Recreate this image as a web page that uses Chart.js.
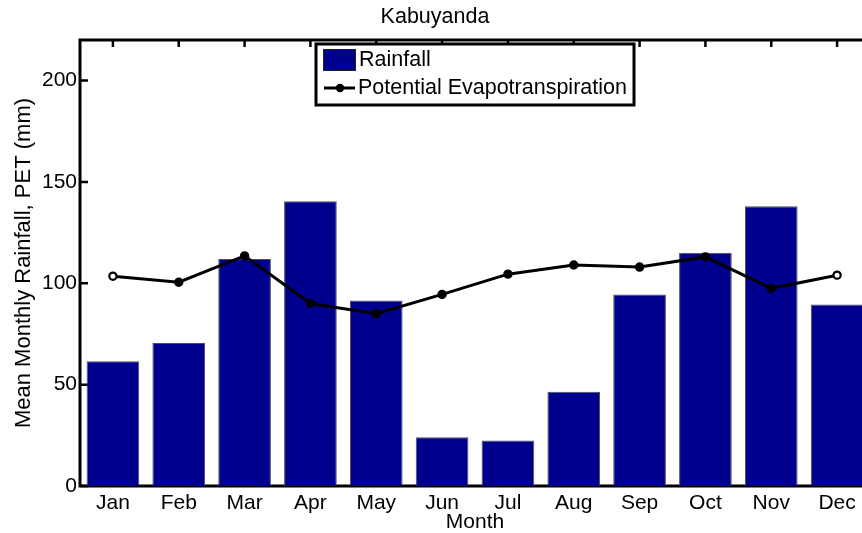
<!DOCTYPE html>
<html>
<head>
<meta charset="utf-8">
<script src="https://cdn.jsdelivr.net/npm/chart.js@4/dist/chart.umd.min.js"></script>
<style>
  html, body { margin: 0; padding: 0; background: #fff; overflow: hidden; width: 862px; height: 533px; }
  #wrap { width: 880px; height: 533px; }
</style>
</head>
<body>
<div id="wrap"><canvas id="c" width="880" height="533"></canvas></div>
<script>
const months = ['Jan','Feb','Mar','Apr','May','Jun','Jul','Aug','Sep','Oct','Nov','Dec'];
const rainfall = [61.5, 70.5, 112, 140.5, 91.5, 24, 22.5, 46.5, 94.5, 115, 138, 89.5];
const pet = [103.5, 100.5, 113.5, 90, 85, 94.5, 104.5, 109, 108, 113, 97.5, 104];
const yTicks = [0, 50, 100, 150, 200];
const chartTitle = 'Kabuyanda';
const xTitle = 'Month';
const yTitle = 'Mean Monthly Rainfall, PET (mm)';
const seriesNames = ['Rainfall', 'Potential Evapotranspiration'];

const FONT = "'Liberation Sans', Arial, Helvetica, sans-serif";
const BAR_COLOR = 'rgb(0,0,143)';

const framePlugin = {
  id: 'frame',
  beforeDatasetsDraw(chart) {
    const {ctx, chartArea: a, scales} = chart;
    ctx.save();
    ctx.strokeStyle = '#000';
    ctx.lineWidth = 3;
    ctx.lineCap = 'square';
    ctx.beginPath();
    ctx.moveTo(a.left, a.bottom); ctx.lineTo(a.left, a.top); ctx.lineTo(a.right, a.top);
    ctx.lineTo(a.right, a.bottom); ctx.lineTo(a.left, a.bottom);
    ctx.stroke();
    ctx.lineWidth = 2.5;
    ctx.lineCap = 'butt';
    ctx.beginPath();
    yTicks.forEach(v => {
      const y = scales.y.getPixelForValue(v);
      ctx.moveTo(a.left, y); ctx.lineTo(a.left + 8, y);
      ctx.moveTo(a.right, y); ctx.lineTo(a.right - 8, y);
    });
    months.forEach((m, i) => {
      const x = scales.x.getPixelForValue(i);
      ctx.moveTo(x, a.top); ctx.lineTo(x, a.top + 7);
      ctx.moveTo(x, a.bottom); ctx.lineTo(x, a.bottom - 7);
    });
    ctx.stroke();
    ctx.restore();
  }
};

const legendPlugin = {
  id: 'matlabLegend',
  afterDraw(chart) {
    const {ctx} = chart;
    const ds = chart.data.datasets;
    const box = {l: 316, t: 44, r: 634, b: 105};
    ctx.save();
    ctx.fillStyle = '#fff';
    ctx.fillRect(box.l, box.t, box.r - box.l, box.b - box.t);
    ctx.strokeStyle = '#000';
    ctx.lineWidth = 3;
    ctx.strokeRect(box.l, box.t, box.r - box.l, box.b - box.t);
    // bar entry
    ctx.fillStyle = ds[0].backgroundColor;
    ctx.fillRect(323, 49, 32, 21);
    ctx.lineWidth = 1;
    ctx.strokeStyle = '#222';
    ctx.strokeRect(323.5, 49.5, 32, 21);
    // line entry
    ctx.strokeStyle = ds[1].borderColor;
    ctx.lineWidth = ds[1].borderWidth;
    ctx.beginPath(); ctx.moveTo(324, 88); ctx.lineTo(355, 88); ctx.stroke();
    ctx.fillStyle = '#000';
    ctx.beginPath(); ctx.arc(340, 88, 4.2, 0, Math.PI * 2); ctx.fill();
    ctx.fillStyle = '#000';
    ctx.font = '21.5px ' + FONT;
    ctx.textBaseline = 'middle';
    ctx.textAlign = 'left';
    ctx.fillText(ds[0].label, 359, 60);
    ctx.fillText(ds[1].label, 358, 88);
    ctx.restore();
  }
};

const pointFill = pet.map((v, i) => (i === 0 || i === pet.length - 1) ? '#fff' : '#000');

new Chart(document.getElementById('c'), {
  data: {
    labels: months,
    datasets: [
      {
        type: 'bar',
        label: seriesNames[0],
        data: rainfall,
        backgroundColor: BAR_COLOR,
        borderColor: 'rgba(60,60,60,0.9)',
        borderWidth: 1,
        barPercentage: 0.8,
        categoryPercentage: 1.0,
        order: 2
      },
      {
        type: 'line',
        label: seriesNames[1],
        data: pet,
        borderColor: '#000',
        borderWidth: 3,
        pointRadius: 3.6,
        pointBorderWidth: 2.2,
        pointBorderColor: '#000',
        pointBackgroundColor: pointFill,
        tension: 0,
        order: 1
      }
    ]
  },
  options: {
    responsive: false,
    animation: false,
    events: [],
    layout: { padding: { left: 0, right: 10, top: 0, bottom: 0 } },
    plugins: {
      legend: { display: false },
      tooltip: { enabled: false },
      title: {
        display: true,
        text: chartTitle,
        color: '#000',
        font: { family: FONT, size: 21.5, weight: 'normal', lineHeight: 1.2 },
        padding: { top: 4.1, bottom: 10.1 }
      }
    },
    scales: {
      x: {
        type: 'category',
        offset: true,
        grid: { display: false, drawTicks: false },
        border: { display: false },
        ticks: { color: '#000', font: { family: FONT, size: 21 }, padding: 5, maxRotation: 0, autoSkip: false },
        title: { display: true, text: xTitle, color: '#000', font: { family: FONT, size: 21, lineHeight: 1.0 }, padding: { top: 0, bottom: 0 } },
        afterFit(scale) { scale.height = 47; }
      },
      y: {
        type: 'linear',
        min: 0,
        max: 220,
        grid: { display: false, drawTicks: false },
        border: { display: false },
        ticks: { color: '#000', font: { family: FONT, size: 21 }, padding: 3 },
        afterBuildTicks(scale) { scale.ticks = yTicks.map(v => ({ value: v })); },
        title: { display: true, text: yTitle, color: '#000', font: { family: FONT, size: 22, lineHeight: 1.2 }, padding: { top: 10.8, bottom: 0 } },
        afterFit(scale) { scale.width = 80; }
      }
    }
  },
  plugins: [framePlugin, legendPlugin]
});
</script>
</body>
</html>
